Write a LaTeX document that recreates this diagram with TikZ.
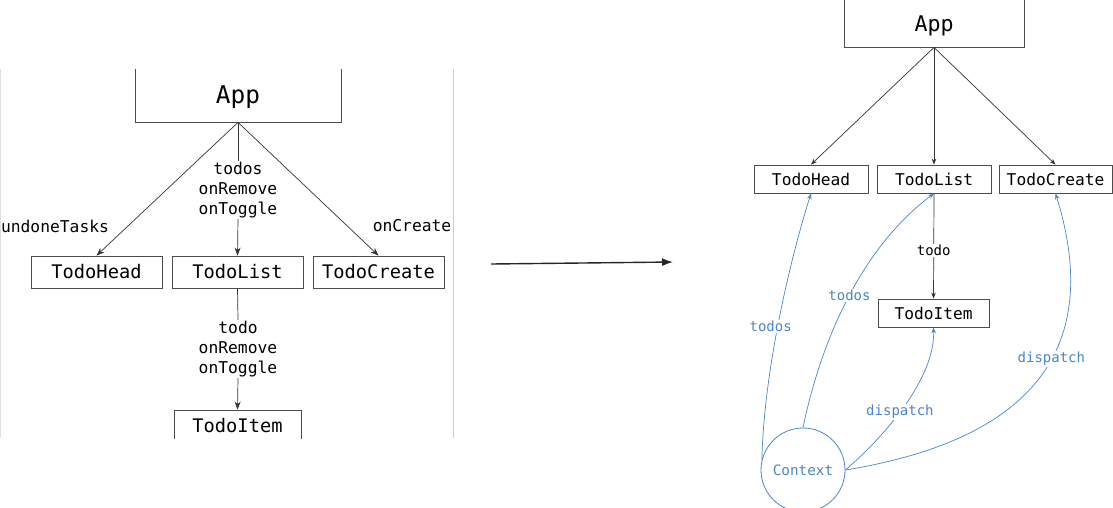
\documentclass[tikz,border=0pt]{standalone}
\usepackage{fontspec}
\setmonofont{DejaVu Sans Mono}
\usetikzlibrary{arrows.meta}
\definecolor{ctxblue}{RGB}{74,134,200}
\begin{document}
\begin{tikzpicture}[x=1pt,y=-1pt,
  box/.style={draw=black!70, line width=0.8pt, inner sep=0pt, text=black},
  bigL/.style={font=\ttfamily\fontsize{18.7}{22}\selectfont},
  bigR/.style={font=\ttfamily\fontsize{16.2}{19}\selectfont},
  lblL/.style={font=\ttfamily\fontsize{16.3}{20}\selectfont, align=center, inner sep=1pt},
  lblR/.style={font=\ttfamily\fontsize{14}{17}\selectfont, inner sep=1pt, fill=white},
  arr/.style={draw=black!80, line width=0.7pt, -{Stealth[length=8pt,width=6pt]}},
  arrR/.style={draw=black!80, line width=0.7pt, -{Stealth[length=6pt,width=4.5pt]}},
  barr/.style={draw=ctxblue, line width=0.7pt, -{Stealth[length=6pt,width=4.5pt]}}
]
\useasboundingbox (0,0) rectangle (1113,507);
\clip (0,0) rectangle (1113,507);

% ---------- left panel ----------
\begin{scope}
\clip (-1,69) rectangle (460,438);
\node[box, minimum width=206pt, minimum height=54pt, text height=22pt, text depth=5pt,
      font=\ttfamily\fontsize{24.4}{28}\selectfont] (appL) at (238,95) {App};
\node[box, bigL, minimum width=131pt, minimum height=32pt] (hdL) at (96.5,272) {TodoHead};
\node[box, bigL, minimum width=131pt, minimum height=32pt] (lsL) at (237.5,272) {TodoList};
\node[box, bigL, minimum width=131pt, minimum height=32pt] (crL) at (378.5,272) {TodoCreate};
\node[box, bigL, minimum width=127pt, minimum height=32pt] (itL) at (237.5,426) {TodoItem};

\node[lblL] (lA) at (238,190) {todos\\onRemove\\onToggle};
\node[lblL] (lB) at (238,349) {todo\\onRemove\\onToggle};
\node[lblL] (lU) at (55,226) {undoneTasks};
\node[lblL] (lC) at (412,226) {onCreate};

\draw[arr] (appL.south) -- (hdL.north);
\draw[draw=black!80, line width=0.7pt] (appL.south) -- (lA.north);
\draw[arr] (lA.south) -- (lsL.north);
\draw[arr] (appL.south) -- (crL.north);
\draw[draw=black!80, line width=0.7pt] (lsL.south) -- (lB.north);
\draw[arr] (lB.south) -- (itL.north);

\draw[black!20, line width=0.8pt] (453,69) -- (453,438);
\draw[black!12, line width=0.8pt] (0.5,69) -- (0.5,438);
\end{scope}

% ---------- middle arrow ----------
\coordinate (m1) at (491,264);
\coordinate (m2) at (673,262);
\draw[black!85, line width=1.4pt, -{Latex[length=11pt,width=8pt]}] (m1) -- (m2);

% ---------- right panel ----------
\node[box, minimum width=180pt, minimum height=54pt, text height=27pt, text depth=5pt,
      font=\ttfamily\fontsize{21.6}{25}\selectfont] (appR) at (934,20) {App};
\node[box, bigR, minimum width=114pt, minimum height=28pt] (hdR) at (811,179) {TodoHead};
\node[box, bigR, minimum width=114pt, minimum height=28pt] (lsR) at (934,179) {TodoList};
\node[box, bigR, minimum width=113pt, minimum height=28pt] (crR) at (1055.5,179) {TodoCreate};
\node[box, bigR, minimum width=111pt, minimum height=28pt] (itR) at (933.5,313) {TodoItem};

\draw[arrR] (appR.south) -- (hdR.north);
\draw[arrR] (appR.south) -- (lsR.north);
\draw[arrR] (appR.south) -- (crR.north);
\draw[arrR] (lsR.south) -- node[pos=0.54, lblR, text=black] (lT) {todo} (itR.north);

\node[circle, draw=ctxblue, line width=0.8pt, minimum size=84pt, inner sep=0pt, text=ctxblue,
      font=\ttfamily\fontsize{14.3}{17}\selectfont] (ctx) at (803,470) {Context};

\draw[barr] (ctx.166) .. controls (764,370) and (790,260) .. node[pos=0.47, lblR, text=ctxblue, xshift=-7pt] (b1) {todos} (hdR.south);
\draw[barr] (ctx.north) .. controls (817,360) and (852,255) .. node[pos=0.55, lblR, text=ctxblue] (b2) {todos} (lsR.south);
\draw[barr] (ctx.east) .. controls (886,435) and (935,378) .. node[pos=0.45, lblR, text=ctxblue] (b3) {dispatch} (itR.south);
\draw[barr] (ctx.east) .. controls (1023,441) and (1106,356) .. node[pos=0.58, lblR, text=ctxblue] (b4) {dispatch} (crR.south);
\end{tikzpicture}
\end{document}
